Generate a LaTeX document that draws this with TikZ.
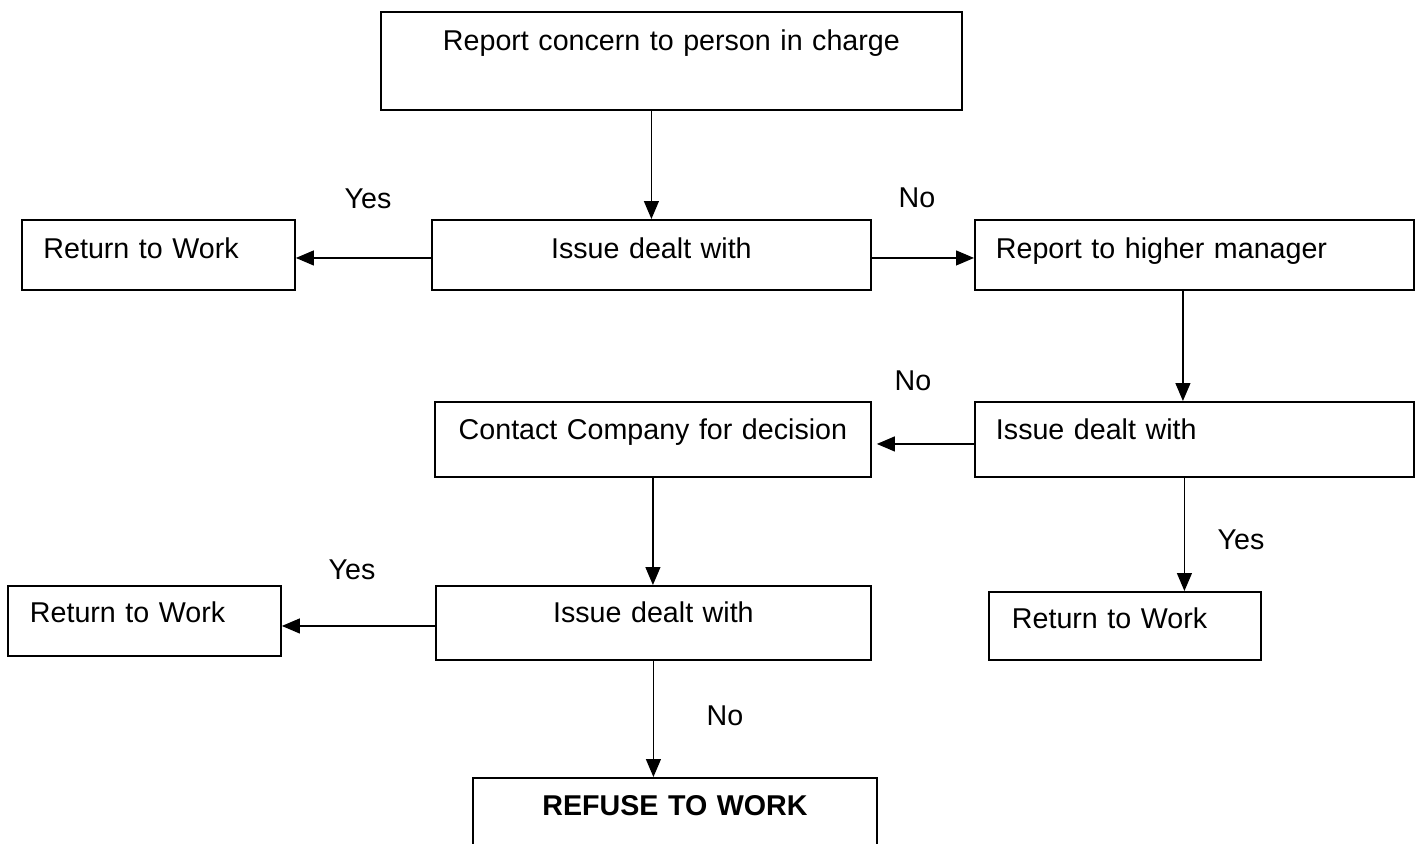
\documentclass[tikz,border=0pt]{standalone}
\usepackage{fontspec}
\setmainfont{Liberation Sans}
\usetikzlibrary{arrows.meta}

\begin{document}
\begin{tikzpicture}[x=0.02cm, y=-0.02cm,
	box/.style={draw, line width=1.1pt, inner ysep=0pt, anchor=north west, font=\fontsize{16.3}{20}\selectfont},
	midbox/.style={box, inner xsep=0pt, align=center},
	leftbox/.style={box, inner xsep=0.43cm, align=left},
	lbl/.style={font=\fontsize{16.3}{20}\selectfont},
	arr/.style={line width=0.7pt, -{Triangle[length=0.36cm, width=0.3cm]}}]
	\useasboundingbox (0,0) rectangle (1417,843);
	\clip (0,0) rectangle (1417,843);

	\node[midbox, text width=11.62cm, text height=0.78cm, text depth=1.18cm] (concern) at (380,11) {Report concern to person in charge};
	\node[midbox, text width=8.78cm, text height=0.78cm, text depth=0.62cm] (issueA) at (431,219) {Issue dealt with};
	\node[leftbox, text width=4.6cm, text height=0.78cm, text depth=0.62cm] (returnA) at (21,219) {Return to Work};
	\node[leftbox, inner xsep=0.42cm, text width=7.94cm, text height=0.78cm, text depth=0.62cm] (higher) at (974,219) {Report to higher manager};
	\node[midbox, text width=8.72cm, text height=0.76cm, text depth=0.74cm] (company) at (434,401) {Contact Company for decision};
	\node[leftbox, inner xsep=0.42cm, text width=7.94cm, text height=0.76cm, text depth=0.74cm] (issueB) at (974,401) {Issue dealt with};
	\node[midbox, text width=8.7cm, text height=0.74cm, text depth=0.74cm] (issueC) at (435,585) {Issue dealt with};
	\node[leftbox, inner xsep=0.44cm, text width=4.58cm, text height=0.74cm, text depth=0.66cm] (returnC) at (7,585) {Return to Work};
	\node[leftbox, inner xsep=0.46cm, text width=4.52cm, text height=0.74cm, text depth=0.62cm] (returnB) at (988,591) {Return to Work};
	\node[midbox, text width=8.08cm, text height=0.76cm, text depth=2cm, font=\fontsize{16.3}{20}\selectfont\bfseries] (refuse) at (472,777) {REFUSE TO WORK};

	\draw[arr] (concern.south -| issueA.north) -- (issueA.north);
	\draw[arr] ([yshift=-0.06cm]issueA.west) -- ([yshift=-0.06cm]issueA.west -| returnA.east);
	\draw[arr] ([yshift=-0.06cm]issueA.east) -- ([yshift=-0.06cm]issueA.east -| higher.west);
	\draw[arr] ([xshift=-0.23cm]higher.south) -- ([xshift=-0.23cm]issueB.north);
	\draw[arr, shorten >=0.1cm] ([yshift=-0.09cm]issueB.west) -- ([yshift=-0.09cm]issueB.west -| company.east);
	\draw[arr] (company.south) -- (company.south |- issueC.north);
	\draw[arr] ([yshift=-0.06cm]issueC.west) -- ([yshift=-0.06cm]issueC.west -| returnC.east);
	\draw[arr] ([xshift=-0.2cm]issueB.south) -- ([xshift=-0.2cm]issueB.south |- returnB.north);
	\draw[arr] (issueC.south) -- (issueC.south |- refuse.north);

	\node[lbl] (yesA) at (368,199) {Yes};
	\node[lbl] (noA) at (917,198) {No};
	\node[lbl] (noB) at (913,381) {No};
	\node[lbl] (yesC) at (352,570) {Yes};
	\node[lbl] (yesB) at (1241,540) {Yes};
	\node[lbl] (noC) at (725,716) {No};
\end{tikzpicture}
\end{document}
